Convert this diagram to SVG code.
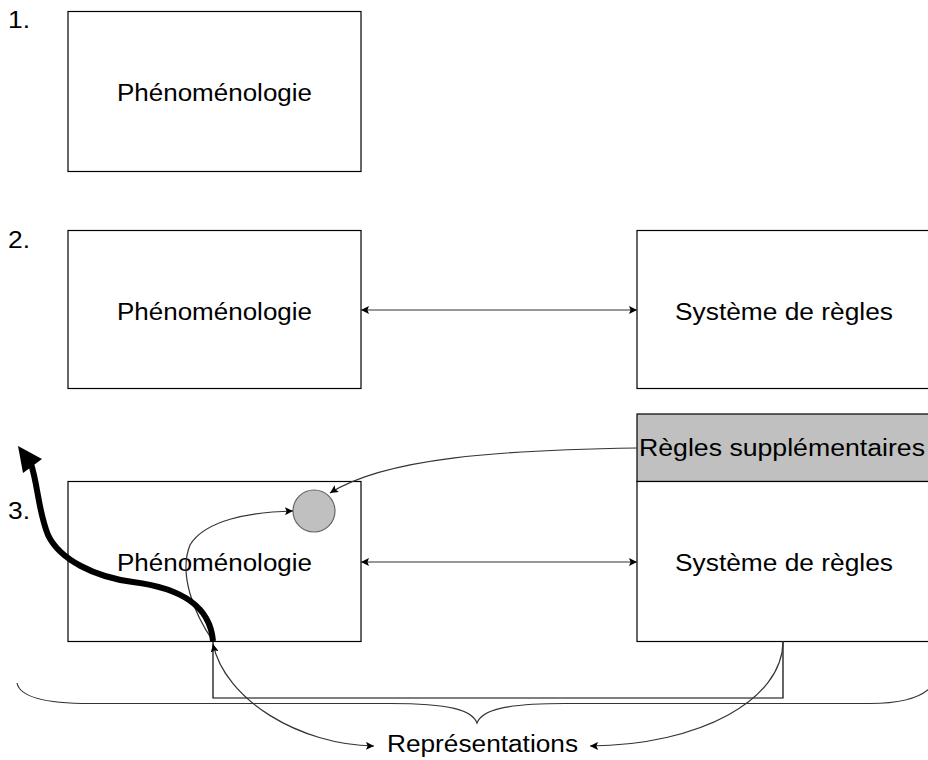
<svg xmlns="http://www.w3.org/2000/svg" width="928" height="760" viewBox="0 0 928 760">
<style>
.box{fill:#fff;stroke:#000;stroke-width:1.2}
.gray{fill:#c0c0c0;stroke:#000;stroke-width:1.2}
.t{font-family:"Liberation Sans",Arial,sans-serif;font-size:23px;fill:#000}
.c{fill:none;stroke:#333;stroke-width:1.2}
</style>
<defs>
<marker id="ah" viewBox="0 0 10 10" refX="10" refY="5" markerWidth="8" markerHeight="8" markerUnits="userSpaceOnUse" orient="auto-start-reverse">
<path d="M0,0 L10,5 L0,10 L2,5 z" fill="#000"/>
</marker>
</defs>
<rect width="928" height="760" fill="#fff"/>
<text class="t" x="8" y="28" textLength="22" lengthAdjust="spacingAndGlyphs">1.</text>
<text class="t" x="8" y="248" textLength="22" lengthAdjust="spacingAndGlyphs">2.</text>
<text class="t" x="8" y="519" textLength="22" lengthAdjust="spacingAndGlyphs">3.</text>
<g id="phen1">
<rect class="box" x="68" y="11.5" width="293" height="160"/>
<text class="t" x="117" y="101" textLength="195" lengthAdjust="spacingAndGlyphs">Phénoménologie</text>
</g>
<g id="phen2">
<rect class="box" x="68" y="230.5" width="293" height="158"/>
<text class="t" x="117" y="320" textLength="195" lengthAdjust="spacingAndGlyphs">Phénoménologie</text>
</g>
<g id="regles2">
<rect class="box" x="637" y="230.5" width="300" height="158"/>
<text class="t" x="675" y="320" textLength="218" lengthAdjust="spacingAndGlyphs">Système de règles</text>
</g>
<g id="phen3">
<rect class="box" x="68" y="481.5" width="293" height="160"/>
<text class="t" x="117" y="571" textLength="195" lengthAdjust="spacingAndGlyphs">Phénoménologie</text>
</g>
<g id="supp">
<rect class="gray" x="637" y="414" width="300" height="67.5"/>
<text class="t" x="639" y="456" textLength="286" lengthAdjust="spacingAndGlyphs">Règles supplémentaires</text>
</g>
<g id="regles3">
<rect class="box" x="637" y="481.5" width="300" height="160"/>
<text class="t" x="675" y="571" textLength="218" lengthAdjust="spacingAndGlyphs">Système de règles</text>
</g>
<g id="circle">
<circle cx="314" cy="511" r="21" fill="#c0c0c0" stroke="#666" stroke-width="1.2"/>
</g>
<g id="repr">
<text class="t" x="387" y="752" textLength="191" lengthAdjust="spacingAndGlyphs">Représentations</text>
</g>
<g id="connectors">
<line class="c" x1="361" y1="310" x2="637" y2="310" marker-start="url(#ah)" marker-end="url(#ah)"/>
<line class="c" x1="361" y1="562" x2="637" y2="562" marker-start="url(#ah)" marker-end="url(#ah)"/>
<path class="c" d="M637,448 C500,450 385,458 330,493" marker-end="url(#ah)"/>
<path class="c" d="M213,641 C195,615 178,575 190,545 C205,520 250,512 293,511" marker-end="url(#ah)"/>
<path fill="none" stroke="#000" stroke-width="1.2" d="M213,641 L213,698 L783,698 L783,641"/>
<path class="c" d="M17,683 C20,698 50,703.5 90,703.5 L390,703.5 C450,703.5 472,710 477,723 C482,710 505,703.5 565,703.5 L870,703.5 C900,703.5 920,698 930,688"/>
<path class="c" d="M213,644 C225,700 300,745 374,746" marker-start="url(#ah)" marker-end="url(#ah)"/>
<path class="c" d="M783,641 C783,700 700,745 590,746" marker-end="url(#ah)"/>
<path fill="none" stroke="#000" stroke-width="6" d="M213,641 C210,605 180,588 133,582 C95,577 60,560 48,535 C38,510 38,485 31,464"/>
<polygon points="18,446 42,459 23,473" fill="#000"/>
</g>
</svg>
